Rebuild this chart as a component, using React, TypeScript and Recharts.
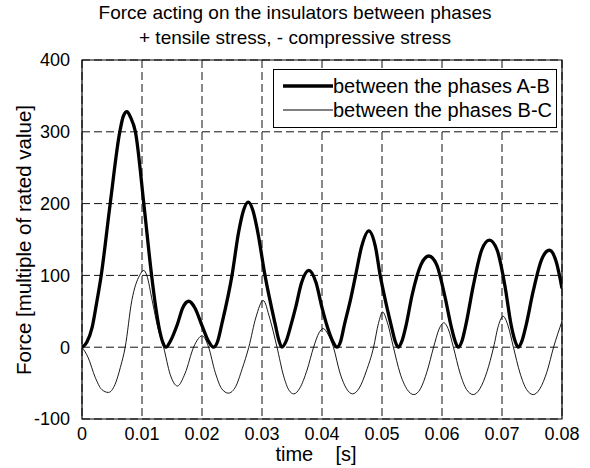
import {
  LineChart,
  Line,
  XAxis,
  YAxis,
  CartesianGrid,
  ReferenceArea,
  Legend,
  Label,
} from "recharts";

// time [s] and force [multiple of rated value]
const abTime = [
  0, 0.0008, 0.0017, 0.0024, 0.0032, 0.0047, 0.0063, 0.0069, 0.0075, 0.0081,
  0.0089, 0.0103, 0.0116, 0.0123, 0.0129, 0.0135, 0.014, 0.0147, 0.0159, 0.0168,
  0.0178, 0.0188, 0.02, 0.0211, 0.0219, 0.0226, 0.0233, 0.025, 0.0261, 0.0269,
  0.0277, 0.0285, 0.0293, 0.0305, 0.0322, 0.0328, 0.0333, 0.034, 0.0348, 0.0356,
  0.0366, 0.0378, 0.039, 0.04, 0.0409, 0.0418, 0.0425, 0.0431, 0.0437, 0.0448,
  0.0456, 0.0466, 0.0478, 0.0489, 0.0497, 0.0507, 0.0516, 0.0522, 0.0527, 0.0533,
  0.054, 0.055, 0.0565, 0.0578, 0.0591, 0.0605, 0.0615, 0.0622, 0.0627, 0.0633,
  0.064, 0.0652, 0.0666, 0.0679, 0.0692, 0.0705, 0.0715, 0.0722, 0.0727, 0.0733,
  0.074, 0.0752, 0.0766, 0.0779, 0.079, 0.08,
];
const abForce = [
  0, 7, 28, 60, 100, 200, 300, 322, 328, 320,
  300, 200, 100, 55, 25, 6, 0, 8, 32, 55,
  64, 55, 30, 8, 0, 8, 32, 100, 160, 190,
  202, 190, 160, 100, 32, 10, 0, 8, 30, 55,
  90, 107, 90, 55, 28, 8, 0, 8, 30, 68,
  100, 140, 162, 140, 100, 60, 28, 8, 0, 8,
  30, 72, 115, 127, 115, 70, 30, 8, 0, 8,
  32, 85, 135, 149, 135, 85, 32, 8, 0, 8,
  30, 78, 122, 135, 120, 82,
];

const bcTime = [
  0, 0.001, 0.0022, 0.0033, 0.0044, 0.0055, 0.0064, 0.0072, 0.0083, 0.0096,
  0.0103, 0.0108, 0.0117, 0.0127, 0.0136, 0.0147, 0.0159, 0.0172, 0.0186, 0.0194,
  0.02, 0.0205, 0.0211, 0.0222, 0.0233, 0.0244, 0.0256, 0.0267, 0.0278, 0.029,
  0.0302, 0.0313, 0.0325, 0.0336, 0.0345, 0.0353, 0.0363, 0.0375, 0.0386, 0.0395,
  0.0402, 0.041, 0.0419, 0.043, 0.0441, 0.0451, 0.0462, 0.0474, 0.0486, 0.0494,
  0.0501, 0.0509, 0.0519, 0.053, 0.0542, 0.0553, 0.0564, 0.0575, 0.0586, 0.0595,
  0.0603, 0.0611, 0.0619, 0.063, 0.0641, 0.0652, 0.0663, 0.0675, 0.0686, 0.0694,
  0.0702, 0.071, 0.0719, 0.073, 0.0741, 0.0752, 0.0763, 0.0775, 0.0786, 0.08,
];
const bcForce = [
  0, -14, -42, -59, -63, -52, -28, 0, 65, 100,
  107, 100, 65, 25, 0, -38, -54, -36, 0, 12,
  16, 12, 0, -35, -58, -64, -55, -30, 0, 42,
  65, 40, 0, -40, -60, -65, -57, -32, 0, 20,
  26, 18, 0, -36, -58, -65, -57, -33, 0, 33,
  49, 34, 0, -36, -59, -66, -58, -34, 0, 25,
  34, 24, 0, -36, -59, -66, -58, -34, 0, 30,
  43, 30, 0, -36, -59, -66, -58, -34, 0, 36,
];

const xTicks = [0, 0.01, 0.02, 0.03, 0.04, 0.05, 0.06, 0.07, 0.08];
const yTicks = [-100, 0, 100, 200, 300, 400];
const seriesNames = ["between the phases A-B", "between the phases B-C"];
const titleLines = [
  "Force acting on the insulators between phases",
  "+ tensile stress, - compressive stress",
];

const font = "'Liberation Sans', Arial, Helvetica, sans-serif";

// merge both series on one time axis (gaps bridged with connectNulls)
const byTime = new Map<number, { t: number; ab: number | null; bc: number | null }>();
abTime.forEach((t, i) => {
  byTime.set(t, { t, ab: abForce[i], bc: null });
});
bcTime.forEach((t, i) => {
  const row = byTime.get(t);
  if (row) row.bc = bcForce[i];
  else byTime.set(t, { t, ab: null, bc: bcForce[i] });
});
const data = Array.from(byTime.values()).sort((a, b) => a.t - b.t);

function LegendBox() {
  return (
    <div
      style={{
        border: "1px solid #000",
        background: "#fff",
        boxSizing: "border-box",
        width: 284,
        height: 59,
        fontFamily: font,
        fontSize: 20,
        color: "#000",
        paddingTop: 4,
      }}
    >
      {seriesNames.map((name, i) => (
        <div key={name} style={{ display: "flex", alignItems: "center", height: 24 }}>
          <svg width={59} height={10} style={{ display: "block" }}>
            <line x1={9} x2={59} y1={5} y2={5} stroke="#000" strokeWidth={i === 0 ? 3.3 : 1} />
          </svg>
          <span style={{ whiteSpace: "nowrap" }}>{name}</span>
        </div>
      ))}
    </div>
  );
}

const fmtX = (v: number) => (v === 0 ? "0" : v.toFixed(2));

export default function App() {
  return (
    <div
      style={{
        position: "fixed",
        left: 0,
        top: 0,
        width: 590,
        height: 468,
        background: "#fff",
        fontFamily: font,
      }}
    >
      <div
        style={{
          position: "absolute",
          top: 0,
          left: 0,
          width: 590,
          textAlign: "center",
          fontSize: 19,
          lineHeight: "25px",
          color: "#000",
        }}
      >
        {titleLines.map((l) => (
          <div key={l}>{l}</div>
        ))}
      </div>

      <LineChart
        width={590}
        height={468}
        data={data}
        margin={{ top: 60, right: 28, bottom: 19, left: 32 }}
        style={{ position: "absolute", left: 0, top: 0 }}
      >
        <CartesianGrid stroke="#111" strokeDasharray="8 4" />
        <XAxis
          dataKey="t"
          type="number"
          domain={[0, 0.08]}
          ticks={xTicks}
          tickFormatter={fmtX}
          height={30}
          tickLine={false}
          axisLine={false}
          tickMargin={2}
          tick={{ fill: "#000", fontSize: 18, fontFamily: font }}
          allowDataOverflow
        >
          <Label
            content={() => (
              <text
                x={316}
                y={461}
                textAnchor="middle"
                fontSize={20}
                fontFamily={font}
                fill="#000"
                style={{ whiteSpace: "pre" }}
              >
                {"time    [s]"}
              </text>
            )}
          />
        </XAxis>
        <YAxis
          type="number"
          domain={[-100, 400]}
          ticks={yTicks}
          width={50}
          tickLine={false}
          axisLine={false}
          tickMargin={6}
          tick={{ fill: "#000", fontSize: 18, fontFamily: font }}
          allowDataOverflow
        >
          <Label
            content={() => (
              <text
                x={31}
                y={240}
                textAnchor="middle"
                fontSize={20.5}
                fontFamily={font}
                fill="#000"
                transform="rotate(-90, 31, 240)"
              >
                Force [multiple of rated value]
              </text>
            )}
          />
        </YAxis>

        {/* axes box */}
        <ReferenceArea
          x1={0}
          x2={0.08}
          y1={-100}
          y2={400}
          fill="none"
          stroke="#000"
          strokeWidth={1.2}
          ifOverflow="visible"
        />

        <Legend
          layout="horizontal"
          verticalAlign="middle"
          align="center"
          wrapperStyle={{ left: 273, top: 69, width: 284, height: 59 }}
          content={() => <LegendBox />}
        />

        <Line
          name={seriesNames[1]}
          dataKey="bc"
          type="monotone"
          stroke="#000"
          strokeWidth={0.9}
          dot={false}
          connectNulls
          isAnimationActive={false}
        />
        <Line
          name={seriesNames[0]}
          dataKey="ab"
          type="monotone"
          stroke="#000"
          strokeWidth={3.3}
          dot={false}
          connectNulls
          isAnimationActive={false}
        />
      </LineChart>
    </div>
  );
}
